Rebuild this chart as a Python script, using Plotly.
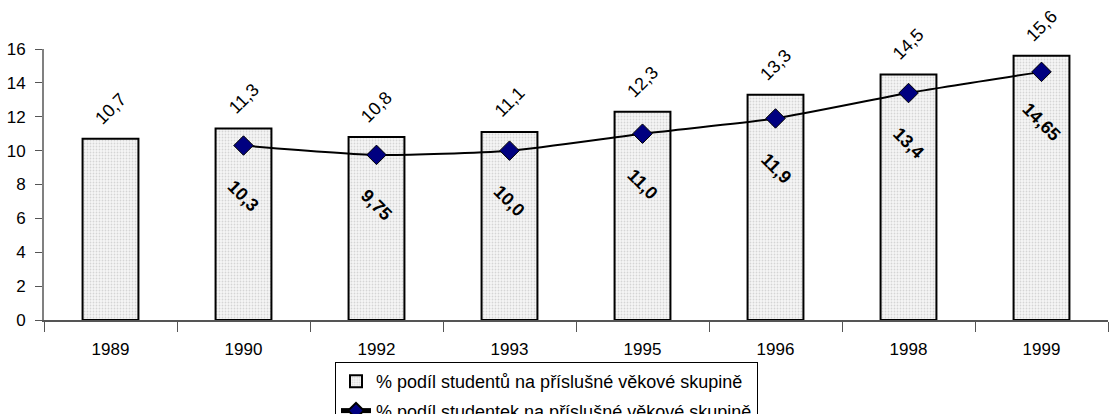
import plotly.graph_objects as go

years = ["1989", "1990", "1992", "1993", "1995", "1996", "1998", "1999"]
students = [10.7, 11.3, 10.8, 11.1, 12.3, 13.3, 14.5, 15.6]
women = [None, 10.3, 9.75, 10.0, 11.0, 11.9, 13.4, 14.65]
women_labels = [None, "10,3", "9,75", "10,0", "11,0", "11,9", "13,4", "14,65"]

FONT = "Arial, Liberation Sans, sans-serif"

# page is taller than the 414px window so the legend box runs off the bottom like the original
H = 440

fig = go.Figure()

fig.add_trace(go.Bar(
    x=years, y=students,
    name="% podíl studentů na příslušné věkové skupině",
    legendgroup="a",
    marker=dict(
        color="#f2f2f2",
        line=dict(color="black", width=2),
        pattern=dict(shape=".", fgcolor="#b4b4b4", bgcolor="#f6f6f6", size=3, solidity=0.3),
    ),
    width=0.42,
))

fig.add_trace(go.Scatter(
    x=years, y=women,
    name="% podíl studentek na příslušné věkové skupině",
    legendgroup="b",
    mode="lines+markers",
    line=dict(color="black", width=2, shape="spline", smoothing=0.6),
    marker=dict(symbol="diamond", size=15, color="#000080", line=dict(color="black", width=1)),
    connectgaps=False,
))

# annotations on a category axis need the category index
annotations = []
for i, v in enumerate(students):
    annotations.append(dict(
        x=i, y=v, xref="x", yref="y", text=f"{v:.1f}".replace(".", ","),
        showarrow=False, textangle=-45, yshift=30,
        font=dict(family=FONT, size=18, color="black"),
    ))
for i, (v, lab) in enumerate(zip(women, women_labels)):
    if v is None:
        continue
    annotations.append(dict(
        x=i, y=v, xref="x", yref="y", text=f"<b>{lab}</b>",
        showarrow=False, textangle=45, yshift=-50,
        font=dict(family=FONT, size=18, color="black"),
    ))

fig.update_layout(
    width=1120, height=H,
    margin=dict(l=44, r=12, t=49, b=H - 320, autoexpand=False),
    plot_bgcolor="white", paper_bgcolor="white",
    font=dict(family=FONT, size=17, color="black"),
    showlegend=True,
    legend=dict(
        x=(335 - 44) / (1120 - 44 - 12), xref="paper", y=(H - 362) / H, yref="container",
        xanchor="left", yanchor="top",
        orientation="v", bordercolor="black", borderwidth=1,
        font=dict(family=FONT, size=18, color="black"),
        tracegroupgap=3, itemsizing="constant",
    ),
    annotations=annotations,
    xaxis=dict(
        type="category", range=[-0.5, len(years) - 0.5], automargin=False,
        tickson="boundaries", ticks="outside", ticklen=10, ticklabelstandoff=13,
        tickcolor="#555555", showline=True, linecolor="#555555", linewidth=1.5,
        showgrid=False, tickfont=dict(family=FONT, size=17, color="black"),
    ),
    yaxis=dict(
        range=[0, 16], dtick=2, ticks="outside", ticklen=7, tickcolor="#555555",
        ticklabelstandoff=6, automargin=False,
        showline=True, linecolor="#808080", linewidth=2, showgrid=False,
        zeroline=False, tickfont=dict(family=FONT, size=17, color="black"),
    ),
)

fig.write_html(
    "out.html",
    config={"displayModeBar": False},
    post_script="document.body.style.margin='0';document.body.style.overflow='hidden';",
)
